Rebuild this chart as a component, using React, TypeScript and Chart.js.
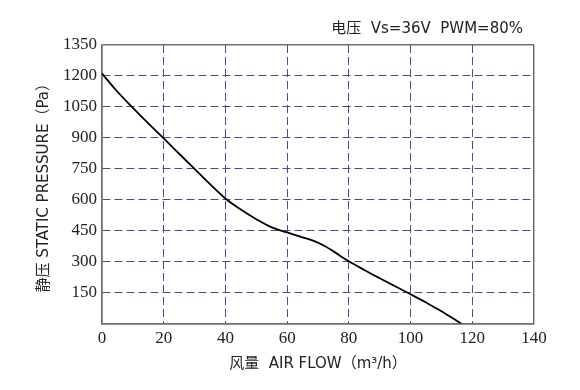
import React, { useEffect, useRef } from "react";
import { Chart, registerables } from "chart.js";

Chart.register(...registerables);

const titleText = "电压  Vs=36V  PWM=80%";
const xTitle = "风量  AIR FLOW（m³/h）";
const yTitle = "静压 STATIC PRESSURE（Pa）";

const airflow = [0, 4.5, 9.7, 15, 20, 25, 30, 35, 40.5, 45, 50, 55, 60, 64.3, 68.6, 72, 75, 80, 85, 90, 95, 100, 105, 110, 116.4];
const pressure = [1212, 1132, 1050, 970, 898, 823, 750, 676, 600, 553, 506, 466, 442, 421, 401, 377, 350, 302, 260, 220, 181, 142, 102, 60, 0];

const xMin = 0, xMax = 140, xStep = 20;
const yMin = 0, yMax = 1350, yStep = 150;

const gridColor = "#4b4b8c";
const frameColor = "#6e6e6e";
const sansFont = "'DejaVu Sans', 'Noto Sans CJK SC', sans-serif";
const serifFont = "'Liberation Serif', 'DejaVu Serif', serif";

const titlePlugin = {
  id: "cornerTitle",
  afterDraw(chart: any) {
    const { ctx, chartArea } = chart;
    ctx.save();
    ctx.font = `15px ${sansFont}`;
    ctx.fillStyle = "#222";
    ctx.textAlign = "right";
    ctx.textBaseline = "middle";
    ctx.fillText(titleText, chartArea.right - 11, 29);
    ctx.restore();
  },
};

export default function App() {
  const ref = useRef<HTMLCanvasElement | null>(null);
  useEffect(() => {
    document.body.style.margin = "0";
    const edge = (v: number, a: number, b: number) => v === a || v === b;
    const chart = new Chart(ref.current as HTMLCanvasElement, {
      type: "line",
      data: {
        datasets: [
          {
            data: airflow.map((x, i) => ({ x, y: pressure[i] })),
            borderColor: "#000",
            borderWidth: 1.8,
            pointRadius: 0,
            fill: false,
            tension: 0.35,
          },
        ],
      },
      plugins: [titlePlugin],
      options: {
        animation: false,
        responsive: true,
        maintainAspectRatio: false,
        layout: { padding: { left: 25, right: 46, top: 45, bottom: 17 } },
        plugins: { legend: { display: false }, tooltip: { enabled: false }, title: { display: false } },
        scales: {
          x: {
            type: "linear",
            min: xMin,
            max: xMax,
            ticks: {
              stepSize: xStep,
              color: "#222",
              padding: 5,
              font: { family: serifFont, size: 17 },
            },
            grid: {
              drawTicks: false,
              lineWidth: (c: any) => (edge(c.tick?.value, xMin, xMax) ? 1.5 : 1),
              color: (c: any) => (edge(c.tick?.value, xMin, xMax) ? frameColor : gridColor),
            },
            border: {
              display: true,
              color: frameColor,
              width: 1.5,
              dash: (c: any) => (edge(c.tick?.value, xMin, xMax) ? [] : [8, 4]),
            },
            title: {
              display: true,
              text: xTitle,
              color: "#222",
              padding: { top: 1, bottom: 0 },
              font: { family: sansFont, size: 15 },
            },
          },
          y: {
            type: "linear",
            min: yMin,
            max: yMax,
            afterFit: (s: any) => {
              s.width = 77;
            },
            ticks: {
              stepSize: yStep,
              color: "#222",
              padding: 5,
              font: { family: serifFont, size: 17 },
              callback: (v: any) => (v === 0 ? "" : String(v)),
            },
            grid: {
              drawTicks: false,
              lineWidth: (c: any) => (edge(c.tick?.value, yMin, yMax) ? 1.5 : 1),
              color: (c: any) => (edge(c.tick?.value, yMin, yMax) ? frameColor : gridColor),
            },
            border: {
              display: true,
              color: frameColor,
              width: 1.5,
              dash: (c: any) => (edge(c.tick?.value, yMin, yMax) ? [] : [8, 4]),
            },
            title: {
              display: true,
              text: yTitle,
              color: "#222",
              padding: { top: 10, bottom: 0 },
              font: { family: sansFont, size: 15 },
            },
          },
        },
      },
    } as any);
    return () => chart.destroy();
  }, []);
  return (
    <div style={{ width: 580, height: 390, position: "relative", background: "#fff" }}>
      <canvas ref={ref} />
    </div>
  );
}
